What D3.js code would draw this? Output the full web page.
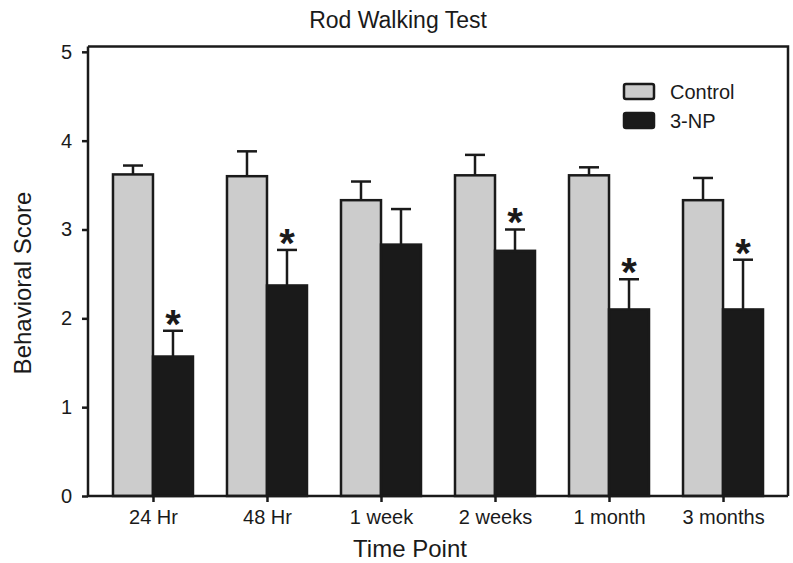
<!DOCTYPE html>
<html>
<head>
<meta charset="utf-8">
<script src="https://cdn.jsdelivr.net/npm/d3@7"></script>
<style>
  body { margin: 0; background: #fff; }
  svg { display: block; font-family: "Liberation Sans", Arial, sans-serif; }
</style>
</head>
<body>
<svg id="chart" width="793" height="563"></svg>
<script>
// ---- data ----
const categories = ["24 Hr", "48 Hr", "1 week", "2 weeks", "1 month", "3 months"];
const seriesNames = ["Control", "3-NP"];
const controlMean = [3.62, 3.60, 3.33, 3.61, 3.61, 3.33];
const controlErr  = [0.10, 0.28, 0.21, 0.23, 0.09, 0.25];
const npMean      = [1.57, 2.37, 2.83, 2.76, 2.10, 2.10];
const npErr       = [0.29, 0.40, 0.40, 0.24, 0.34, 0.56];
const significant = [true, true, false, true, true, true];
const yTicks = [0, 1, 2, 3, 4, 5];

// ---- layout ----
const W = 793, H = 563;
const margin = { left: 88, right: 5, top: 46.5, bottom: 67 };
const plotW = W - margin.left - margin.right;
const plotH = H - margin.top - margin.bottom;
const barW = 40;
const dark = "#1a1a1a";
const colors = { "Control": "#cccccc", "3-NP": "#1a1a1a" };

const svg = d3.select("#chart");
const g = svg.append("g").attr("transform", `translate(${margin.left},${margin.top})`);

const x = d3.scalePoint().domain(categories).range([0, plotW]).padding(0.57);
const y = d3.scaleLinear().domain([0, 5.06]).range([plotH, 0]);

const rows = categories.map((c, i) => ({
  cat: c,
  bars: [
    { s: "Control", v: controlMean[i], e: controlErr[i], off: -barW, sig: false },
    { s: "3-NP", v: npMean[i], e: npErr[i], off: 0, sig: significant[i] }
  ]
}));
const allBars = rows.flatMap(r => r.bars.map(b => Object.assign({ cat: r.cat }, b)));

// error bars (upward only)
const eb = g.append("g").selectAll("g").data(allBars).enter().append("g");
eb.append("line")
  .attr("x1", d => x(d.cat) + d.off + barW / 2)
  .attr("x2", d => x(d.cat) + d.off + barW / 2)
  .attr("y1", d => y(d.v))
  .attr("y2", d => y(d.v + d.e))
  .attr("stroke", dark).attr("stroke-width", 2.5);
eb.append("line")
  .attr("x1", d => x(d.cat) + d.off + barW / 2 - 10)
  .attr("x2", d => x(d.cat) + d.off + barW / 2 + 10)
  .attr("y1", d => y(d.v + d.e))
  .attr("y2", d => y(d.v + d.e))
  .attr("stroke", dark).attr("stroke-width", 2.5);

// bars
g.append("g").selectAll("rect").data(allBars).enter().append("rect")
  .attr("x", d => x(d.cat) + d.off)
  .attr("y", d => y(d.v))
  .attr("width", barW)
  .attr("height", d => y(0) - y(d.v))
  .attr("fill", d => colors[d.s])
  .attr("stroke", dark).attr("stroke-width", 2.5);

// asterisks
g.append("g").selectAll("text").data(allBars.filter(d => d.sig)).enter().append("text")
  .attr("x", d => x(d.cat) + d.off + barW / 2)
  .attr("y", d => y(d.v + d.e) + 7)
  .attr("text-anchor", "middle")
  .attr("font-size", 40).attr("font-weight", "bold").attr("fill", dark)
  .text("*");

// frame (top & right)
g.append("path")
  .attr("d", `M0,0H${plotW}V${plotH}`)
  .attr("fill", "none").attr("stroke", dark).attr("stroke-width", 2.5);

// axes
const yAxis = g.append("g")
  .call(d3.axisLeft(y).tickValues(yTicks).tickFormat(d3.format("d")).tickSize(6).tickPadding(10));
const xAxis = g.append("g").attr("transform", `translate(0,${plotH})`)
  .call(d3.axisBottom(x).tickSize(6).tickPadding(8));
[yAxis, xAxis].forEach(a => {
  a.select(".domain").attr("stroke", dark).attr("stroke-width", 2.5);
  a.selectAll(".tick line").attr("stroke", dark).attr("stroke-width", 2.5);
  a.selectAll(".tick text").attr("font-size", 20).attr("fill", dark)
    .attr("font-family", "'Liberation Sans', Arial, sans-serif");
});
yAxis.select(".domain").attr("d", `M0,${plotH}V0`);
xAxis.select(".domain").attr("d", `M0,0H${plotW}`);

// titles
svg.append("text").attr("x", 398).attr("y", 28).attr("text-anchor", "middle")
  .attr("font-size", 23).attr("fill", dark).text("Rod Walking Test");
svg.append("text").attr("x", 410).attr("y", 557).attr("text-anchor", "middle")
  .attr("font-size", 24).attr("fill", dark).text("Time Point");
svg.append("text").attr("transform", "translate(31,283) rotate(-90)").attr("text-anchor", "middle")
  .attr("font-size", 24).attr("fill", dark).text("Behavioral Score");

// legend
const lg = svg.append("g").attr("transform", "translate(624,84)");
const li = lg.selectAll("g").data(seriesNames).enter().append("g")
  .attr("transform", (d, i) => `translate(0,${i * 29})`);
li.append("rect").attr("width", 30).attr("height", 15).attr("rx", 2)
  .attr("fill", d => colors[d]).attr("stroke", dark).attr("stroke-width", 2.5);
li.append("text").attr("x", 46).attr("y", 15).attr("font-size", 20).attr("fill", dark).text(d => d);
</script>
</body>
</html>
